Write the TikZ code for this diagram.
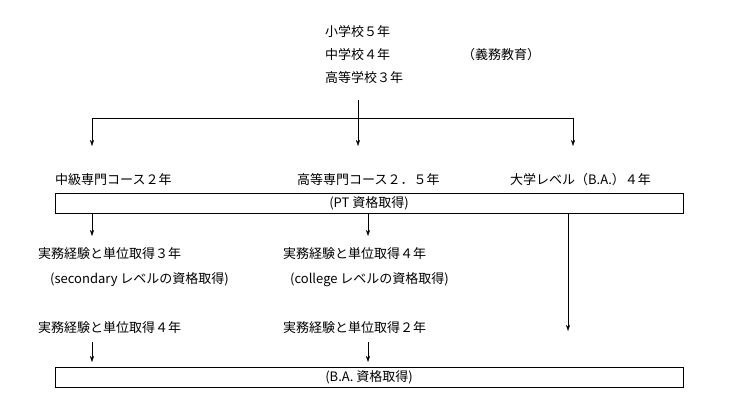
\documentclass[tikz,border=0pt]{standalone}
\usepackage{fontspec}
\setmainfont{Noto Sans CJK JP}
\usepackage{tikz}
\usetikzlibrary{arrows.meta}

\begin{document}
\begin{tikzpicture}[x=1pt, y=-1pt, font=\fontsize{13}{15}\selectfont, >={Stealth[length=6pt,width=4pt]}]
        \useasboundingbox (0,0) rectangle (736,405);
        \tikzset{lbl/.style={anchor=west, inner sep=0pt}, stage/.style={draw, rectangle, minimum width=628pt, minimum height=20pt, inner sep=0pt}}
        % Nodes
        \node (elem) [lbl] at (325,32) {小学校５年};
        \node (junior) [lbl] at (325,55) {中学校４年};
        \node (compulsory) [lbl] at (462,55) {（義務教育）};
        \node (high) [lbl] at (325,78) {高等学校３年};
        \coordinate (top) at (358,100);
        \coordinate (split) at (358,118);
        \coordinate (splitL) at (92,118);
        \coordinate (splitR) at (573,118);
        \coordinate (inL) at (92,146);
        \coordinate (inM) at (358,146);
        \coordinate (inR) at (573,146);
        \node (mid) [lbl] at (55,180) {中級専門コース２年};
        \node (adv) [lbl] at (297,180) {高等専門コース２．５年};
        \node (univ) [lbl] at (510,180) {大学レベル（B.A.）４年};
        \node (pt) [stage] at (369,203) {(PT 資格取得)};
        \coordinate (ptL) at (92,213);
        \coordinate (ptM) at (368,213);
        \coordinate (ptR) at (568,213);
        \coordinate (toA) at (92,236);
        \coordinate (toB) at (368,236);
        \node (workA) [lbl] at (38,254) {実務経験と単位取得３年};
        \node (secA) [lbl] at (50,280) {(secondary レベルの資格取得)};
        \node (workB) [lbl] at (283,254) {実務経験と単位取得４年};
        \node (colB) [lbl] at (290,280) {(college レベルの資格取得)};
        \node (workC) [lbl] at (38,328) {実務経験と単位取得４年};
        \node (workD) [lbl] at (283,328) {実務経験と単位取得２年};
        \coordinate (fromC) at (92,342);
        \coordinate (fromD) at (368,342);
        \coordinate (toC) at (92,362);
        \coordinate (toD) at (368,362);
        \coordinate (toR) at (568,331);
        \node (ba) [stage] at (369,377) {(B.A. 資格取得)};

        % Arrows
        \draw (top) -- (split);
        \draw (splitL) -- (splitR);
        \draw[->] (splitL) -- (inL);
        \draw[->] (split) -- (inM);
        \draw[->] (splitR) -- (inR);
        \draw[->] (ptL) -- (toA);
        \draw[->] (ptM) -- (toB);
        \draw[->] (fromC) -- (toC);
        \draw[->] (fromD) -- (toD);
        \draw[->] (ptR) -- (toR);
    \end{tikzpicture}
\end{document}
